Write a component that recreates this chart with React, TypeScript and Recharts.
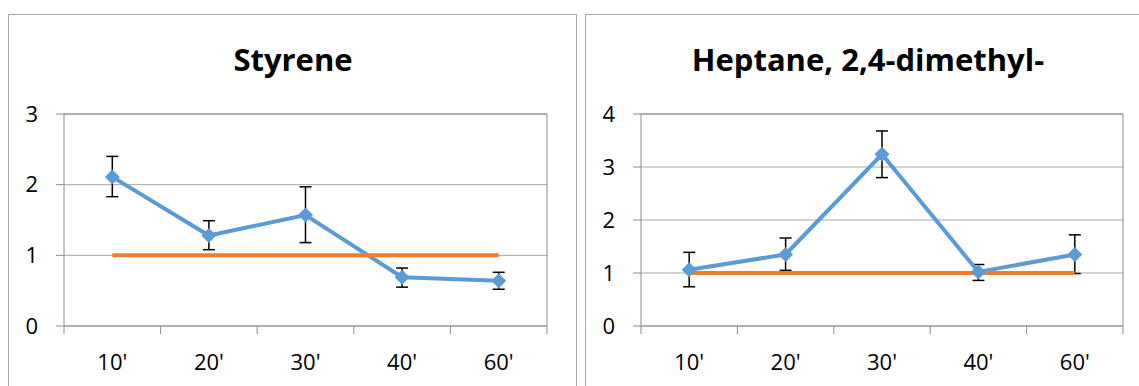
import React from "react";
import {
  LineChart,
  Line,
  XAxis,
  YAxis,
  CartesianGrid,
  ErrorBar,
  ReferenceLine,
} from "recharts";

const categories = ["10'", "20'", "30'", "40'", "60'"];

const styreneValues = [2.11, 1.28, 1.57, 0.69, 0.64];
const styreneErrHigh = [2.4, 1.49, 1.97, 0.82, 0.76];
const styreneErrLow = [1.83, 1.08, 1.18, 0.55, 0.52];

const heptaneValues = [1.06, 1.35, 3.24, 1.02, 1.35];
const heptaneErrHigh = [1.39, 1.66, 3.68, 1.16, 1.72];
const heptaneErrLow = [0.74, 1.05, 2.8, 0.86, 0.99];

// control level drawn as the orange series
const controlLevel = [1, 1, 1, 1, 1];

const styreneTicks = [0, 1, 2, 3];
const heptaneTicks = [0, 1, 2, 3, 4];

const BLUE = "#5B9BD5";
const ORANGE = "#ED7D31";
const GRID = "#A6A6A6";
const AXIS = "#8C8C8C";
const FONT = "'Open Sans', sans-serif";

function buildRows(values: number[], hi: number[], lo: number[]) {
  return categories.map((name, i) => ({
    x: i + 0.5,
    name,
    value: values[i],
    err: [values[i] - lo[i], hi[i] - values[i]],
    control: controlLevel[i],
  }));
}

const Diamond = (props: any) => {
  const { cx, cy, index } = props;
  if (cx == null || cy == null) return <g key={`d-${index}`} />;
  const r = 7.5;
  return (
    <path
      key={`d-${index}`}
      d={`M${cx},${cy - r}L${cx + r},${cy}L${cx},${cy + r}L${cx - r},${cy}Z`}
      fill={BLUE}
    />
  );
};

// category boundaries get a tick mark, category centres get the label
const XTick = (props: any) => {
  const { x, y, payload } = props;
  const v = payload.value as number;
  if (Number.isInteger(v)) {
    return <line x1={x} y1={y} x2={x} y2={y + 8} stroke={AXIS} strokeWidth={1} />;
  }
  return (
    <text
      x={x}
      y={y + 35}
      textAnchor="middle"
      dominantBaseline="central"
      fontFamily={FONT}
      fontSize={22}
      fill="#000"
    >
      {categories[Math.floor(v)]}
    </text>
  );
};

const xTicks = [0, 0.5, 1, 1.5, 2, 2.5, 3, 3.5, 4, 4.5, 5];

function Panel({
  left,
  width,
  title,
  titleX,
  values,
  hi,
  lo,
  yTicks,
  marginRight,
}: {
  left: number;
  width: number;
  title: string;
  titleX: number;
  values: number[];
  hi: number[];
  lo: number[];
  yTicks: number[];
  marginRight: number;
}) {
  const rows = buildRows(values, hi, lo);
  const yMax = yTicks[yTicks.length - 1];
  return (
    <div style={{ position: "absolute", left, top: 14, width, height: 372 }}>
      <svg
        width={width}
        height={80}
        style={{ position: "absolute", left: 0, top: 0 }}
      >
        <text
          x={titleX}
          y={57}
          textAnchor="middle"
          fontFamily={FONT}
          fontWeight="bold"
          fontSize={31}
          fill="#000"
        >
          {title}
        </text>
      </svg>
      <div style={{ position: "absolute", left: 0, top: 0 }}>
        <LineChart
          width={width}
          height={372}
          data={rows}
          margin={{ top: 100, right: marginRight, bottom: 0, left: 0 }}
        >
          <CartesianGrid vertical={false} stroke={GRID} strokeWidth={1} />
          <XAxis
            dataKey="x"
            type="number"
            domain={[0, 5]}
            ticks={xTicks}
            interval={0}
            height={60}
            tickLine={false}
            tickSize={0}
            tickMargin={0}
            stroke={AXIS}
            tick={<XTick />}
          />
          <YAxis
            type="number"
            domain={[0, yMax]}
            ticks={yTicks}
            interval={0}
            width={56}
            tickSize={8}
            tickMargin={18}
            stroke={AXIS}
            tick={{ fontFamily: FONT, fontSize: 22, fill: "#000" }}
          />
          <ReferenceLine x={5} stroke={AXIS} strokeWidth={1} />
          <ReferenceLine y={yMax} stroke={AXIS} strokeWidth={1} />
          <Line
            dataKey="value"
            stroke={BLUE}
            strokeWidth={4}
            dot={Diamond}
            activeDot={false}
            isAnimationActive={false}
          >
            <ErrorBar
              dataKey="err"
              direction="y"
              width={6}
              stroke="#000"
              strokeWidth={1.5}
            />
          </Line>
          <Line
            dataKey="control"
            stroke={ORANGE}
            strokeWidth={4}
            dot={false}
            activeDot={false}
            isAnimationActive={false}
          />
        </LineChart>
      </div>
    </div>
  );
}

export default function App() {
  return (
    <div
      style={{
        position: "relative",
        width: 1139,
        height: 386,
        overflow: "hidden",
        background: "#fff",
      }}
    >
      <style>{`body{margin:0;overflow:hidden}`}</style>
      <div
        style={{
          position: "absolute",
          left: 8,
          top: 14,
          width: 569,
          height: 420,
          border: "1px solid #A6A6A6",
          boxSizing: "border-box",
        }}
      />
      <div
        style={{
          position: "absolute",
          left: 585,
          top: 14,
          width: 600,
          height: 420,
          border: "1px solid #A6A6A6",
          boxSizing: "border-box",
        }}
      />
      <Panel
        left={8}
        width={570}
        title="Styrene"
        titleX={285}
        values={styreneValues}
        hi={styreneErrHigh}
        lo={styreneErrLow}
        yTicks={styreneTicks}
        marginRight={31}
      />
      <Panel
        left={585}
        width={554}
        title="Heptane, 2,4-dimethyl-"
        titleX={283}
        values={heptaneValues}
        hi={heptaneErrHigh}
        lo={heptaneErrLow}
        yTicks={heptaneTicks}
        marginRight={16}
      />
    </div>
  );
}
